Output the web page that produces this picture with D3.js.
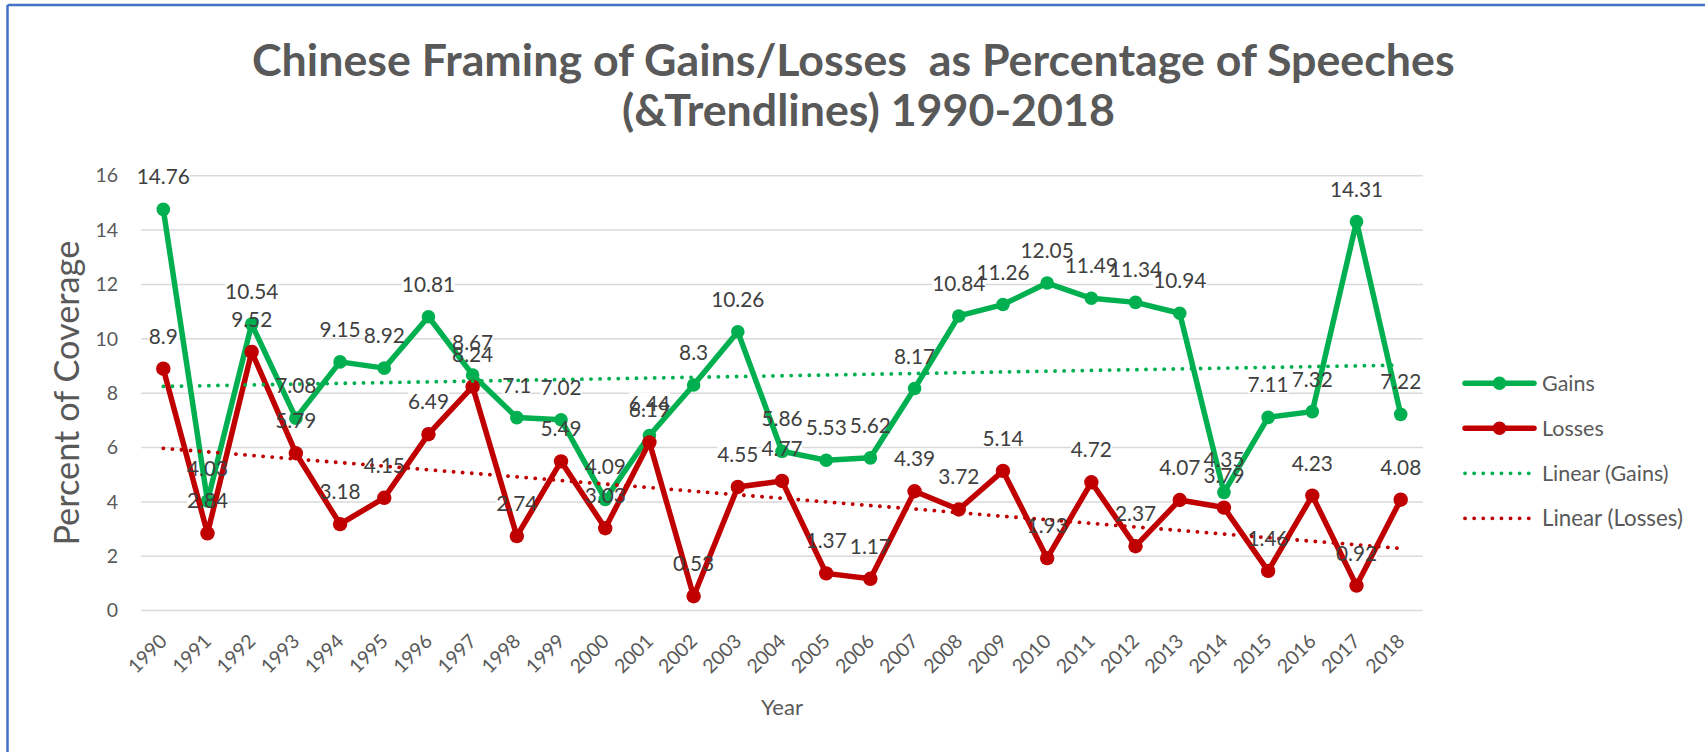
<!DOCTYPE html>
<html>
<head>
<meta charset="utf-8">
<script src="https://cdn.jsdelivr.net/npm/d3@7"></script>
<style>
  html, body { margin: 0; padding: 0; background: #fff; }
  svg { display: block; }
  text { font-family: Lato, "Open Sans", sans-serif; }
</style>
</head>
<body>
<svg id="chart" width="1705" height="752"></svg>
<script>
const years = [1990,1991,1992,1993,1994,1995,1996,1997,1998,1999,2000,2001,2002,2003,2004,2005,2006,2007,2008,2009,2010,2011,2012,2013,2014,2015,2016,2017,2018];
const gains = [14.76,4.03,10.54,7.08,9.15,8.92,10.81,8.67,7.1,7.02,4.09,6.44,8.3,10.26,5.86,5.53,5.62,8.17,10.84,11.26,12.05,11.49,11.34,10.94,4.35,7.11,7.32,14.31,7.22];
const losses = [8.9,2.84,9.52,5.79,3.18,4.15,6.49,8.24,2.74,5.49,3.03,6.19,0.53,4.55,4.77,1.37,1.17,4.39,3.72,5.14,1.93,4.72,2.37,4.07,3.79,1.46,4.23,0.92,4.08];
const yTicks = [0,2,4,6,8,10,12,14,16];
const titleLines = ["Chinese Framing of Gains/Losses  as Percentage of Speeches", "(&Trendlines) 1990-2018"];
const yTitle = "Percent of Coverage";
const xTitle = "Year";
const legendItems = ["Gains", "Losses", "Linear (Gains)", "Linear (Losses)"];

const GREEN = "#00B050", RED = "#C00000";
const svg = d3.select("#chart");

// chart border (top + left visible)
svg.append("line").attr("x1", 7.5).attr("x2", 1705).attr("y1", 5).attr("y2", 5)
  .attr("stroke", "#4472C4").attr("stroke-width", 2.5);
svg.append("line").attr("x1", 7.5).attr("x2", 7.5).attr("y1", 5).attr("y2", 752)
  .attr("stroke", "#4472C4").attr("stroke-width", 2.5);

const plot = {left: 141.2, right: 1422.8, top: 175.7, bottom: 610.6};
const x = d3.scaleBand().domain(years).range([plot.left, plot.right]);
const y = d3.scaleLinear().domain([0, 16]).range([plot.bottom, plot.top]);
const cx = d => x(d) + x.bandwidth() / 2;

function fitText(sel, target) {
  const node = sel.node();
  const fs = parseFloat(sel.attr("font-size"));
  const len = node.getComputedTextLength();
  sel.attr("font-size", fs * target / len);
  return fs * target / len;
}

// title
const t1 = svg.append("text").attr("x", 252).attr("y", 76).attr("font-size", 38)
  .attr("font-weight", "bold").attr("fill", "#595959").style("white-space", "pre").text(titleLines[0]);
const tfs = fitText(t1, 1203);
svg.append("text").attr("x", 622).attr("y", 126).attr("font-size", tfs)
  .attr("font-weight", "bold").attr("fill", "#595959").text(titleLines[1]);

// gridlines
const grid = svg.append("g");
grid.selectAll("line").data(yTicks).join("line")
  .attr("x1", plot.left).attr("x2", plot.right)
  .attr("y1", d => y(d)).attr("y2", d => y(d))
  .attr("stroke", "#D9D9D9").attr("stroke-width", 1.5);

// y axis tick labels
const yAxis = d3.axisLeft(y).tickValues(yTicks).tickSize(0).tickPadding(0);
const yg = svg.append("g").attr("transform", `translate(118,0)`).call(yAxis);
yg.select(".domain").remove();
yg.selectAll("text").attr("font-size", 19.5).attr("fill", "#595959").attr("font-family", "Lato");

// x axis tick labels
const xAxis = d3.axisBottom(x).tickSize(0).tickPadding(0);
const xg = svg.append("g").attr("transform", `translate(0,${plot.bottom})`).call(xAxis);
xg.select(".domain").remove();
xg.selectAll("text").attr("font-size", 19.5).attr("fill", "#595959").attr("font-family", "Lato")
  .attr("text-anchor", "end").attr("dy", 0).attr("y", 0)
  .attr("transform", "translate(5,32) rotate(-45)");

// axis titles
const yt = svg.append("text").attr("font-size", 32).attr("fill", "#595959")
  .attr("text-anchor", "middle")
  .attr("transform", `translate(79,${(plot.top + plot.bottom) / 2}) rotate(-90)`).text(yTitle);
fitText(yt, 305);
svg.append("text").attr("x", (plot.left + plot.right) / 2).attr("y", 715)
  .attr("text-anchor", "middle").attr("font-size", 22).attr("fill", "#595959").text(xTitle);

// data labels background + labels
const series = [
  {name: "Gains", values: gains, color: GREEN, r: 6.8},
  {name: "Losses", values: losses, color: RED, r: 7.2}
];
const labelBg = svg.append("g");
const labelG = svg.append("g");
series.forEach(s => {
  years.forEach((yr, i) => {
    const t = labelG.append("text").attr("x", cx(yr)).attr("y", y(s.values[i]) - 25)
      .attr("text-anchor", "middle").attr("font-size", 20.8).attr("fill", "#404040")
      .text(String(s.values[i]));
    const bb = t.node().getBBox();
    labelBg.append("rect").attr("x", bb.x).attr("y", bb.y + 3).attr("width", bb.width)
      .attr("height", bb.height - 6).attr("fill", "#fff");
  });
});

// series lines & markers
const line = d3.line().x((d, i) => cx(years[i])).y(d => y(d));
const seriesG = svg.append("g");
series.forEach(s => {
  seriesG.append("path").datum(s.values).attr("d", line).attr("fill", "none")
    .attr("stroke", s.color).attr("stroke-width", 5.5).attr("stroke-linejoin", "round");
  seriesG.append("g").selectAll("circle").data(s.values).join("circle")
    .attr("cx", (d, i) => cx(years[i])).attr("cy", d => y(d)).attr("r", s.r).attr("fill", s.color);
});

// linear trendlines (least squares over index 1..n)
function linreg(vals) {
  const xs = vals.map((v, i) => i + 1);
  const mx = d3.mean(xs), my = d3.mean(vals);
  let sxy = 0, sxx = 0;
  xs.forEach((xx, i) => { sxy += (xx - mx) * (vals[i] - my); sxx += (xx - mx) ** 2; });
  const b = sxy / sxx, a = my - b * mx;
  return xx => a + b * xx;
}
series.forEach(s => {
  const f = linreg(s.values);
  const n = years.length;
  svg.append("line")
    .attr("x1", cx(years[0])).attr("y1", y(f(1)))
    .attr("x2", cx(years[n - 1])).attr("y2", y(f(n)))
    .attr("stroke", s.color).attr("stroke-width", 3.8)
    .attr("stroke-linecap", "round").attr("stroke-dasharray", "0.1 9");
});

// bring labels above everything
labelG.raise();

// legend
const legendY = [383.3, 428.3, 473.3, 518.3];
const lg = svg.append("g");
legendItems.forEach((name, i) => {
  const color = i % 2 === 0 ? GREEN : RED;
  const yy = legendY[i];
  if (i < 2) {
    lg.append("line").attr("x1", 1465).attr("x2", 1534).attr("y1", yy).attr("y2", yy)
      .attr("stroke", color).attr("stroke-width", 5.5).attr("stroke-linecap", "round");
    lg.append("circle").attr("cx", 1499.5).attr("cy", yy).attr("r", 6.8).attr("fill", color);
  } else {
    lg.append("line").attr("x1", 1465).attr("x2", 1535).attr("y1", yy).attr("y2", yy)
      .attr("stroke", color).attr("stroke-width", 3.8).attr("stroke-linecap", "round")
      .attr("stroke-dasharray", "0.1 9");
  }
  const lt = lg.append("text").attr("x", 1542).attr("y", yy + 7.5).attr("font-size", 21.5)
    .attr("fill", "#595959").text(name);
  if (name === "Linear (Losses)") fitText(lt, 141);
});
</script>
</body>
</html>
